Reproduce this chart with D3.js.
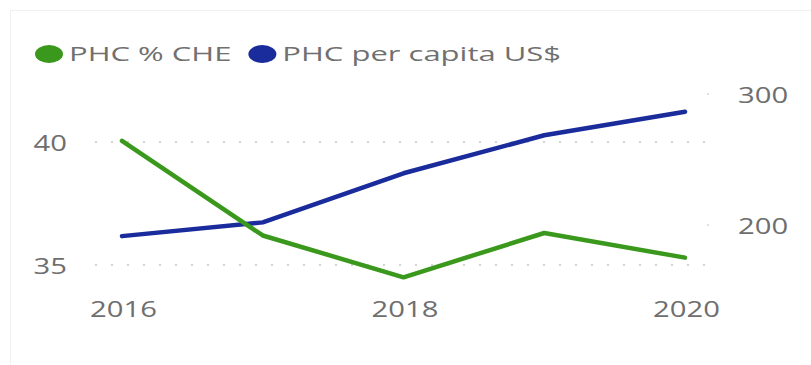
<!DOCTYPE html>
<html>
<head>
<meta charset="utf-8">
<script src="https://cdn.jsdelivr.net/npm/d3@7/dist/d3.min.js"></script>
<style>
  html, body { margin: 0; padding: 0; background: #fff; }
  svg { display: block; font-family: "Open Sans", "Noto Sans", sans-serif; }
</style>
</head>
<body>
<svg id="chart" width="811" height="365"></svg>
<script>
const years = [2016, 2017, 2018, 2019, 2020];
const phcPctChe = [40.05, 36.2, 34.5, 36.3, 35.3];
const phcPerCapita = [191.5, 202, 239.5, 268.5, 286.5];
const leftTicks = [35, 40];
const rightTicks = [200, 300];
const xTicks = [2016, 2018, 2020];
const seriesNames = ["PHC % CHE", "PHC per capita US$"];
const colors = ["#3a991c", "#1a2b9c"];

const svg = d3.select("#chart");
const stretch = 1.55; // reference is horizontally stretched

// card border
svg.append("rect").attr("x", 10.5).attr("y", 10.5).attr("width", 820).attr("height", 400)
  .attr("fill", "none").attr("stroke", "#f0f0f0").attr("stroke-width", 1);

const x = d3.scaleLinear().domain([2016, 2020]).range([122, 685]);
const yL = d3.scaleLinear().domain([35, 40]).range([265, 142]);
const yR = d3.scaleLinear().domain([200, 300]).range([225, 94]);

// left gridlines (dotted)
const grid = svg.append("g");
leftTicks.forEach(t => {
  grid.append("line").attr("x1", 95).attr("x2", 710)
    .attr("y1", yL(t)).attr("y2", yL(t))
    .attr("stroke", "#d4d4d4").attr("stroke-width", 2)
    .attr("stroke-dasharray", "2,14").attr("stroke-linecap", "butt");
});
// right tick dots
rightTicks.forEach(t => {
  grid.append("circle").attr("cx", 708).attr("cy", yR(t)).attr("r", 1).attr("fill", "#d4d4d4");
});

const digitW = 16.7;
function styleLabels(sel) {
  sel.selectAll("text")
    .attr("font-size", 21).attr("fill", "#6e6e6e").attr("dy", "0.35em")
    .style("font-family", '"Open Sans", sans-serif')
    .attr("lengthAdjust", "spacingAndGlyphs")
    .attr("textLength", function () { return this.textContent.length * digitW; });
}

// left axis labels
const lAxis = svg.append("g").attr("transform", "translate(67,1)")
  .call(d3.axisLeft(yL).tickValues(leftTicks).tickFormat(d3.format("d")).tickSize(0).tickPadding(0));
lAxis.select(".domain").remove();
styleLabels(lAxis);

// right axis labels
const rAxis = svg.append("g").attr("transform", "translate(738,1)")
  .call(d3.axisRight(yR).tickValues(rightTicks).tickFormat(d3.format("d")).tickSize(0).tickPadding(0));
rAxis.select(".domain").remove();
styleLabels(rAxis);

// x axis labels
const xAxis = svg.append("g").attr("transform", "translate(1,310)")
  .call(d3.axisBottom(x).tickValues(xTicks).tickFormat(d3.format("d")).tickSize(0).tickPadding(0));
xAxis.select(".domain").remove();
styleLabels(xAxis);

// lines
const lineL = d3.line().x((d, i) => x(years[i])).y(d => yL(d));
const lineR = d3.line().x((d, i) => x(years[i])).y(d => yR(d));

svg.append("path").datum(phcPerCapita).attr("d", lineR)
  .attr("fill", "none").attr("stroke", colors[1]).attr("stroke-width", 4.5)
  .attr("stroke-linecap", "round").attr("stroke-linejoin", "round");
svg.append("path").datum(phcPctChe).attr("d", lineL)
  .attr("fill", "none").attr("stroke", colors[0]).attr("stroke-width", 4.5)
  .attr("stroke-linecap", "round").attr("stroke-linejoin", "round");

// legend
const legend = svg.append("g").attr("transform", "translate(0,54)");
let lx = 35;
seriesNames.forEach((name, i) => {
  legend.append("ellipse").attr("cx", lx + 14).attr("cy", 0).attr("rx", 14).attr("ry", 9).attr("fill", colors[i]);
  const t = legend.append("text").attr("x", lx + 34).attr("y", 0).attr("dy", "0.35em")
    .attr("font-size", 20).attr("fill", "#707070").text(name);
  const w = t.node().getComputedTextLength() * stretch;
  t.attr("lengthAdjust", "spacingAndGlyphs").attr("textLength", w);
  lx = lx + 34 + w + 17;
});
</script>
</body>
</html>
